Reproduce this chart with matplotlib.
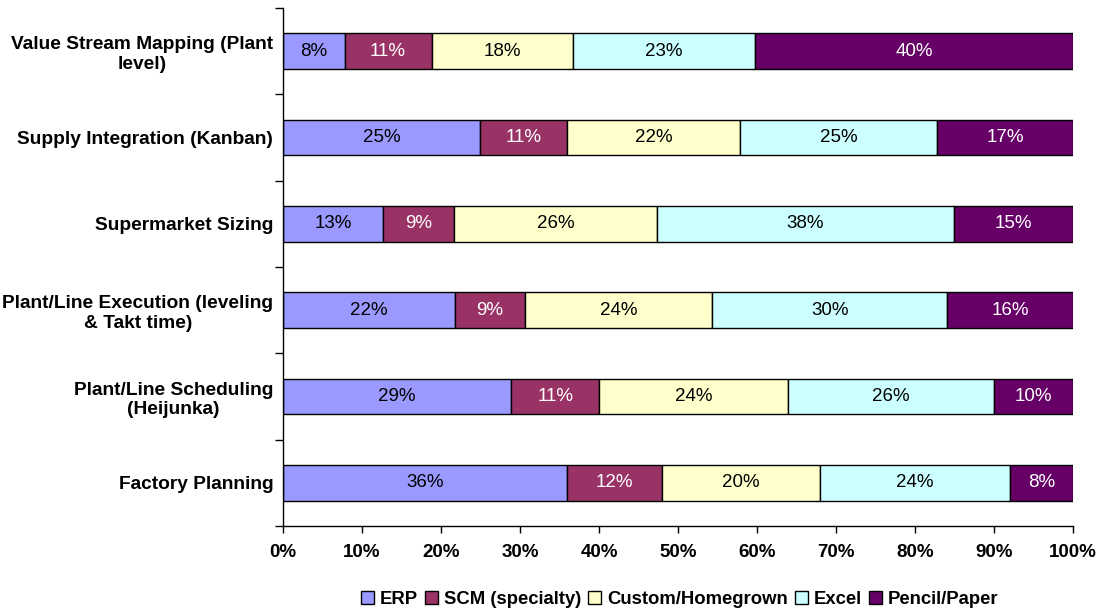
import numpy as np
import matplotlib.pyplot as plt

plt.rcParams['font.family'] = ['Liberation Sans', 'DejaVu Sans']

categories = ['Factory Planning', 'Plant/Line Scheduling\n(Heijunka)',
              'Plant/Line Execution (leveling\n& Takt time)', 'Supermarket Sizing',
              'Supply Integration (Kanban)', 'Value Stream Mapping (Plant\nlevel)']
series = ['ERP', 'SCM (specialty)', 'Custom/Homegrown', 'Excel', 'Pencil/Paper']

erp = [36.0, 28.9, 21.8, 12.7, 24.9, 7.8]
scm = [12.0, 11.1, 8.8, 9.0, 11.0, 11.0]
custom = [20.0, 23.9, 23.7, 25.6, 22.0, 17.9]
excel = [24.0, 26.1, 29.8, 37.6, 24.9, 23.1]
pencil = [8.0, 10.0, 15.9, 15.1, 17.2, 40.2]

colors = ['#9999FF', '#993366', '#FFFFCC', '#CCFFFF', '#660066']
text_colors = ['black', 'white', 'black', 'black', 'white']

fig = plt.figure(figsize=(11.07, 6.14), dpi=100)
ax = fig.add_axes([0.2557, 0.1433, 0.7136, 0.8437])

y = np.arange(len(categories))
left = np.zeros(len(categories))
for vals, name, c, tc in zip([erp, scm, custom, excel, pencil], series, colors, text_colors):
    vals = np.array(vals)
    ax.barh(y, vals, left=left, height=0.41, color=c, edgecolor='black',
            linewidth=1.0, label=name)
    for yi, l, v in zip(y, left, vals):
        ax.text(l + v / 2, yi, f'{v:.0f}%', ha='center', va='center',
                color=tc, fontsize=13.5)
    left += vals

ax.set_xlim(0, 100)
ax.set_ylim(-0.5, len(categories) - 0.5)
ax.set_xticks(np.arange(0, 101, 10))
ax.set_xticklabels([f'{v}%' for v in range(0, 101, 10)], fontsize=13.5, fontweight='bold')
ax.tick_params(axis='x', length=5, width=1, pad=8)

# labels sit at bar centers, ticks at the boundaries between rows
ax.set_yticks(np.arange(-0.5, len(categories), 1.0))
ax.set_yticklabels([])
ax.set_yticks(y, minor=True)
ax.set_yticklabels(categories, minor=True, fontsize=13.8, fontweight='bold',
                   ha='right', multialignment='center')
ax.tick_params(axis='y', which='major', length=6, width=1)
ax.tick_params(axis='y', which='minor', length=0, pad=7)

for s in ['top', 'right']:
    ax.spines[s].set_visible(False)
ax.spines['left'].set_linewidth(1)
ax.spines['bottom'].set_linewidth(1)

fig.legend(loc='lower center', bbox_to_anchor=(0.614, -0.008), ncol=5, frameon=False,
           prop={'size': 13.3, 'weight': 'bold'}, handlelength=0.7, handleheight=0.7,
           handletextpad=0.3, columnspacing=0.4, borderaxespad=0.2)

fig.savefig('out.png', dpi=100)
